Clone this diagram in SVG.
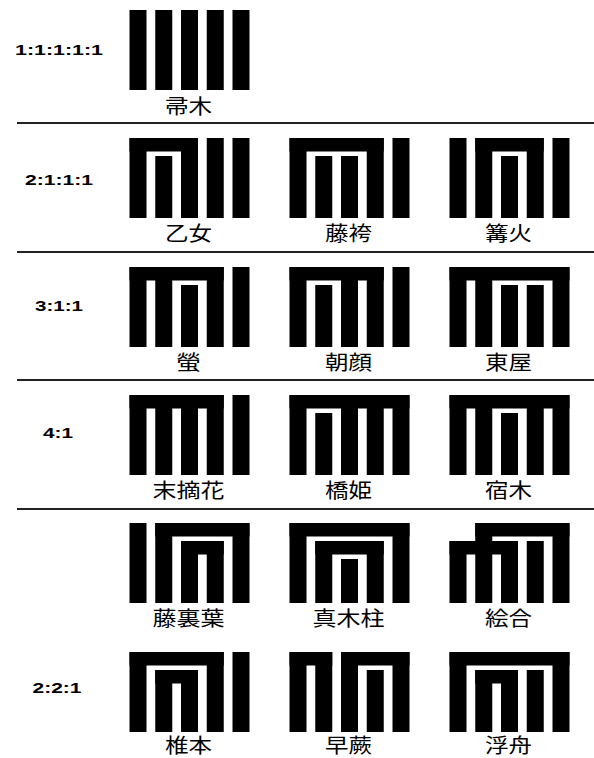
<svg xmlns="http://www.w3.org/2000/svg" width="594" height="758" viewBox="0 0 594 758">
<style>
.s rect{fill:#000}
.lbl{font-family:"Noto Sans CJK JP","Noto Sans CJK SC",sans-serif;font-size:20px;fill:#000;text-anchor:middle}
.ratio{font-family:"Liberation Sans",Arial,sans-serif;font-size:15px;font-weight:bold;fill:#000;text-anchor:middle}
.sep{stroke:#222;stroke-width:2}
</style>
<rect width="594" height="758" fill="#fff"/>
<g id="separators">
<line class="sep" x1="17" y1="123" x2="594" y2="123"/>
<line class="sep" x1="17" y1="252" x2="594" y2="252"/>
<line class="sep" x1="17" y1="380" x2="594" y2="380"/>
<line class="sep" x1="17" y1="509" x2="594" y2="509"/>
</g>
<g id="ratios">
<text class="ratio" x="59" y="55" textLength="88" lengthAdjust="spacingAndGlyphs">1:1:1:1:1</text>
<text class="ratio" x="59" y="185" textLength="68" lengthAdjust="spacingAndGlyphs">2:1:1:1</text>
<text class="ratio" x="59" y="311" textLength="48" lengthAdjust="spacingAndGlyphs">3:1:1</text>
<text class="ratio" x="58" y="438" textLength="30" lengthAdjust="spacingAndGlyphs">4:1</text>
<text class="ratio" x="57" y="693" textLength="49" lengthAdjust="spacingAndGlyphs">2:2:1</text>
</g>

<g id="hahakigi">
<g class="s" transform="translate(129.5,10)">
<rect x="0" y="0" width="17" height="80"/><rect x="25.75" y="0" width="17" height="80"/><rect x="51.5" y="0" width="17" height="80"/><rect x="77.25" y="0" width="17" height="80"/><rect x="103" y="0" width="17" height="80"/>
</g>
<text class="lbl" x="188.5" y="114" textLength="47" lengthAdjust="spacingAndGlyphs">帚木</text>
</g>

<g id="otome">
<g class="s" transform="translate(129.5,138)">
<rect x="0" y="0" width="68.5" height="13.5"/><rect x="0" y="0" width="17" height="80"/><rect x="51.5" y="0" width="17" height="80"/><rect x="25.75" y="18" width="17" height="62"/><rect x="77.25" y="0" width="17" height="80"/><rect x="103" y="0" width="17" height="80"/>
</g>
<text class="lbl" x="188.5" y="241" textLength="47" lengthAdjust="spacingAndGlyphs">乙女</text>
</g>
<g id="fujibakama">
<g class="s" transform="translate(289.5,138)">
<rect x="0" y="0" width="94.25" height="13.5"/><rect x="0" y="0" width="17" height="80"/><rect x="77.25" y="0" width="17" height="80"/><rect x="25.75" y="18" width="17" height="62"/><rect x="51.5" y="18" width="17" height="62"/><rect x="103" y="0" width="17" height="80"/>
</g>
<text class="lbl" x="348.5" y="241" textLength="47" lengthAdjust="spacingAndGlyphs">藤袴</text>
</g>
<g id="kagaribi">
<g class="s" transform="translate(449.5,138)">
<rect x="0" y="0" width="17" height="80"/><rect x="25.75" y="0" width="68.5" height="13.5"/><rect x="25.75" y="0" width="17" height="80"/><rect x="77.25" y="0" width="17" height="80"/><rect x="51.5" y="18" width="17" height="62"/><rect x="103" y="0" width="17" height="80"/>
</g>
<text class="lbl" x="508.5" y="241" textLength="47" lengthAdjust="spacingAndGlyphs">篝火</text>
</g>

<g id="hotaru">
<g class="s" transform="translate(129.5,267)">
<rect x="0" y="0" width="94.25" height="13.5"/><rect x="0" y="0" width="17" height="80"/><rect x="25.75" y="0" width="17" height="80"/><rect x="77.25" y="0" width="17" height="80"/><rect x="51.5" y="18" width="17" height="62"/><rect x="103" y="0" width="17" height="80"/>
</g>
<text class="lbl" x="188.5" y="370" textLength="25" lengthAdjust="spacingAndGlyphs">螢</text>
</g>
<g id="asagao">
<g class="s" transform="translate(289.5,267)">
<rect x="0" y="0" width="94.25" height="13.5"/><rect x="0" y="0" width="17" height="80"/><rect x="51.5" y="0" width="17" height="80"/><rect x="77.25" y="0" width="17" height="80"/><rect x="25.75" y="18" width="17" height="62"/><rect x="103" y="0" width="17" height="80"/>
</g>
<text class="lbl" x="348.5" y="370" textLength="47" lengthAdjust="spacingAndGlyphs">朝顔</text>
</g>
<g id="azumaya">
<g class="s" transform="translate(449.5,267)">
<rect x="0" y="0" width="120" height="13.5"/><rect x="0" y="0" width="17" height="80"/><rect x="25.75" y="0" width="17" height="80"/><rect x="103" y="0" width="17" height="80"/><rect x="51.5" y="18" width="17" height="62"/><rect x="77.25" y="18" width="17" height="62"/>
</g>
<text class="lbl" x="508.5" y="370" textLength="47" lengthAdjust="spacingAndGlyphs">東屋</text>
</g>

<g id="suetsumuhana">
<g class="s" transform="translate(129.5,395)">
<rect x="0" y="0" width="94.25" height="13.5"/><rect x="0" y="0" width="17" height="80"/><rect x="25.75" y="0" width="17" height="80"/><rect x="51.5" y="0" width="17" height="80"/><rect x="77.25" y="0" width="17" height="80"/><rect x="103" y="0" width="17" height="80"/>
</g>
<text class="lbl" x="188.5" y="498" textLength="72" lengthAdjust="spacingAndGlyphs">末摘花</text>
</g>
<g id="hashihime">
<g class="s" transform="translate(289.5,395)">
<rect x="0" y="0" width="120" height="13.5"/><rect x="0" y="0" width="17" height="80"/><rect x="51.5" y="0" width="17" height="80"/><rect x="77.25" y="0" width="17" height="80"/><rect x="103" y="0" width="17" height="80"/><rect x="25.75" y="18" width="17" height="62"/>
</g>
<text class="lbl" x="348.5" y="498" textLength="47" lengthAdjust="spacingAndGlyphs">橋姫</text>
</g>
<g id="yadorigi">
<g class="s" transform="translate(449.5,395)">
<rect x="0" y="0" width="120" height="13.5"/><rect x="0" y="0" width="17" height="80"/><rect x="25.75" y="0" width="17" height="80"/><rect x="77.25" y="0" width="17" height="80"/><rect x="103" y="0" width="17" height="80"/><rect x="51.5" y="18" width="17" height="62"/>
</g>
<text class="lbl" x="508.5" y="498" textLength="47" lengthAdjust="spacingAndGlyphs">宿木</text>
</g>

<g id="fujinouraba">
<g class="s" transform="translate(129.5,523)">
<rect x="0" y="0" width="17" height="80"/><rect x="25.75" y="0" width="94.25" height="13.5"/><rect x="25.75" y="0" width="17" height="80"/><rect x="103" y="0" width="17" height="80"/><rect x="51.5" y="18" width="42.75" height="13.5"/><rect x="51.5" y="18" width="17" height="62"/><rect x="77.25" y="18" width="17" height="62"/>
</g>
<text class="lbl" x="188.5" y="626" textLength="72" lengthAdjust="spacingAndGlyphs">藤裏葉</text>
</g>
<g id="makibashira">
<g class="s" transform="translate(289.5,523)">
<rect x="0" y="0" width="120" height="13.5"/><rect x="0" y="0" width="17" height="80"/><rect x="103" y="0" width="17" height="80"/><rect x="25.75" y="18" width="68.5" height="13.5"/><rect x="25.75" y="18" width="17" height="62"/><rect x="77.25" y="18" width="17" height="62"/><rect x="51.5" y="36" width="17" height="44"/>
</g>
<text class="lbl" x="348.5" y="626" textLength="72" lengthAdjust="spacingAndGlyphs">真木柱</text>
</g>
<g id="eawase">
<g class="s" transform="translate(449.5,523)">
<rect x="25.75" y="0" width="94.25" height="13.5"/><rect x="25.75" y="0" width="17" height="80"/><rect x="103" y="0" width="17" height="80"/><rect x="0" y="18" width="68.5" height="13.5"/><rect x="0" y="18" width="17" height="62"/><rect x="51.5" y="18" width="17" height="62"/><rect x="77.25" y="18" width="17" height="62"/>
</g>
<text class="lbl" x="508.5" y="626" textLength="47" lengthAdjust="spacingAndGlyphs">絵合</text>
</g>

<g id="shiigamoto">
<g class="s" transform="translate(129.5,652)">
<rect x="0" y="0" width="94.25" height="13.5"/><rect x="0" y="0" width="17" height="80"/><rect x="77.25" y="0" width="17" height="80"/><rect x="25.75" y="18" width="42.75" height="13.5"/><rect x="25.75" y="18" width="17" height="62"/><rect x="51.5" y="18" width="17" height="62"/><rect x="103" y="0" width="17" height="80"/>
</g>
<text class="lbl" x="188.5" y="753" textLength="47" lengthAdjust="spacingAndGlyphs">椎本</text>
</g>
<g id="sawarabi">
<g class="s" transform="translate(289.5,652)">
<rect x="0" y="0" width="42.75" height="13.5"/><rect x="0" y="0" width="17" height="80"/><rect x="25.75" y="0" width="17" height="80"/><rect x="51.5" y="0" width="68.5" height="13.5"/><rect x="51.5" y="0" width="17" height="80"/><rect x="103" y="0" width="17" height="80"/><rect x="77.25" y="18" width="17" height="62"/>
</g>
<text class="lbl" x="348.5" y="753" textLength="47" lengthAdjust="spacingAndGlyphs">早蕨</text>
</g>
<g id="ukifune">
<g class="s" transform="translate(449.5,652)">
<rect x="0" y="0" width="120" height="13.5"/><rect x="0" y="0" width="17" height="80"/><rect x="103" y="0" width="17" height="80"/><rect x="25.75" y="18" width="42.75" height="13.5"/><rect x="25.75" y="18" width="17" height="62"/><rect x="51.5" y="18" width="17" height="62"/><rect x="77.25" y="18" width="17" height="62"/>
</g>
<text class="lbl" x="508.5" y="753" textLength="47" lengthAdjust="spacingAndGlyphs">浮舟</text>
</g>
</svg>
